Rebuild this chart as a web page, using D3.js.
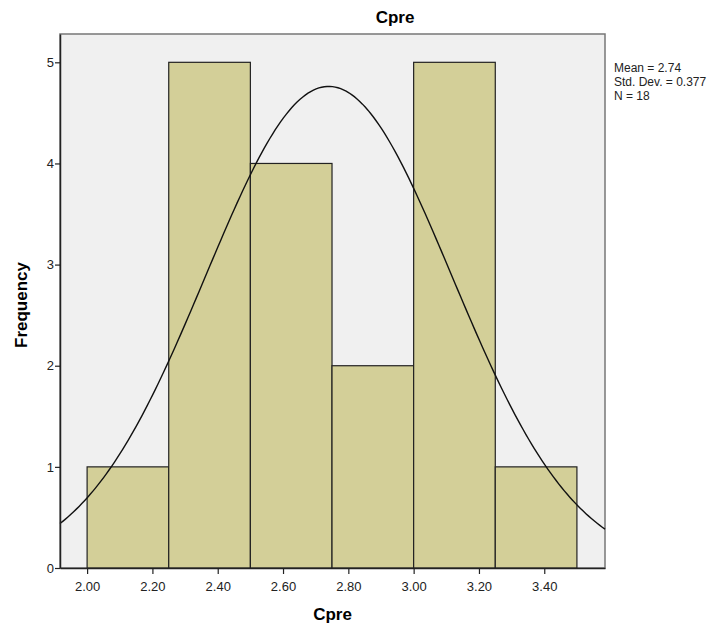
<!DOCTYPE html>
<html lang="en">
<head>
    <meta charset="UTF-8">
    <title>Cpre</title>
    <script src="https://d3js.org/d3.v7.min.js"></script>
    <style>
        body { margin: 0; background: #fff; }
        text { font-family: Arial, "Liberation Sans", sans-serif; }
    </style>
</head>
<body>
<script>
    // histogram bins (lower edge) and counts
    var binStarts = [2.00, 2.25, 2.50, 2.75, 3.00, 3.25];
    var counts = [1, 5, 4, 2, 5, 1];
    var binWidth = 0.25;
    var xTicks = [2.0, 2.2, 2.4, 2.6, 2.8, 3.0, 3.2, 3.4];
    var yTicks = [0, 1, 2, 3, 4, 5];
    var mean = 2.74, sd = 0.377, n = 18;
    var stats = ["Mean = 2.74", "Std. Dev. = 0.377", "N = 18"];

    var width = 723, height = 630;
    var m = {left: 60, right: 118, top: 34, bottom: 62};

    var svg = d3.select("body").append("svg")
        .attr("width", width)
        .attr("height", height);

    var x = d3.scaleLinear().domain([1.917, 3.586]).range([m.left, width - m.right]);
    var y = d3.scaleLinear().domain([0, 5.28]).range([height - m.bottom, m.top]);

    // plot background
    svg.append("rect")
        .attr("x", m.left).attr("y", m.top)
        .attr("width", width - m.left - m.right)
        .attr("height", height - m.top - m.bottom)
        .attr("fill", "#f0f0f0")
        .attr("stroke", "#777")
        .attr("stroke-width", 1.5);

    svg.selectAll("rect.bar")
        .data(counts)
        .enter()
        .append("rect")
        .attr("class", "bar")
        .attr("x", function(d, i) { return x(binStarts[i]); })
        .attr("y", function(d) { return y(d); })
        .attr("width", function(d, i) { return x(binStarts[i] + binWidth) - x(binStarts[i]); })
        .attr("height", function(d) { return y(0) - y(d); })
        .attr("fill", "#d3cf98")
        .attr("stroke", "#222")
        .attr("stroke-width", 1.2);

    // normal curve from mean / sd
    var xs = d3.range(0, 201).map(function(i) { return 1.917 + i * (3.586 - 1.917) / 200; });
    var line = d3.line()
        .x(function(v) { return x(v); })
        .y(function(v) {
            var z = (v - mean) / sd;
            return y(n * binWidth / (sd * Math.sqrt(2 * Math.PI)) * Math.exp(-0.5 * z * z));
        });
    svg.append("path")
        .attr("d", line(xs))
        .attr("fill", "none")
        .attr("stroke", "#111")
        .attr("stroke-width", 1.4);

    // axes
    var xAxis = svg.append("g")
        .attr("transform", "translate(0," + (height - m.bottom) + ")")
        .call(d3.axisBottom(x).tickValues(xTicks).tickFormat(d3.format(".2f")).tickSize(6).tickSizeOuter(0));
    var yAxis = svg.append("g")
        .attr("transform", "translate(" + m.left + ",0)")
        .call(d3.axisLeft(y).tickValues(yTicks).tickFormat(d3.format("d")).tickSize(5).tickSizeOuter(0));

    [xAxis, yAxis].forEach(function(a) {
        a.select(".domain").attr("stroke", "#222").attr("stroke-width", 1.5);
        a.selectAll(".tick line").attr("stroke", "#222").attr("stroke-width", 1.2);
        a.selectAll(".tick text").attr("font-size", 13).attr("fill", "#222")
            .attr("font-family", "Arial, 'Liberation Sans', sans-serif");
    });
    xAxis.selectAll(".tick text").attr("dy", "1.05em");
    yAxis.selectAll(".tick text").attr("dx", "0.15em");

    // titles
    svg.append("text")
        .attr("x", 395).attr("y", 23)
        .attr("text-anchor", "middle")
        .attr("font-size", 17).attr("font-weight", "bold")
        .text("Cpre");
    svg.append("text")
        .attr("x", x((1.917 + 3.586) / 2)).attr("y", 620)
        .attr("text-anchor", "middle")
        .attr("font-size", 17).attr("font-weight", "bold")
        .text("Cpre");
    svg.append("text")
        .attr("transform", "translate(27," + ((m.top + height - m.bottom) / 2 + 4) + ") rotate(-90)")
        .attr("text-anchor", "middle")
        .attr("font-size", 17).attr("font-weight", "bold")
        .text("Frequency");

    // stats text
    svg.selectAll("text.stat")
        .data(stats)
        .enter()
        .append("text")
        .attr("class", "stat")
        .attr("x", 614)
        .attr("y", function(d, i) { return 72 + i * 14; })
        .attr("font-size", 12)
        .attr("fill", "#222")
        .text(function(d) { return d; });
</script>
</body>
</html>
